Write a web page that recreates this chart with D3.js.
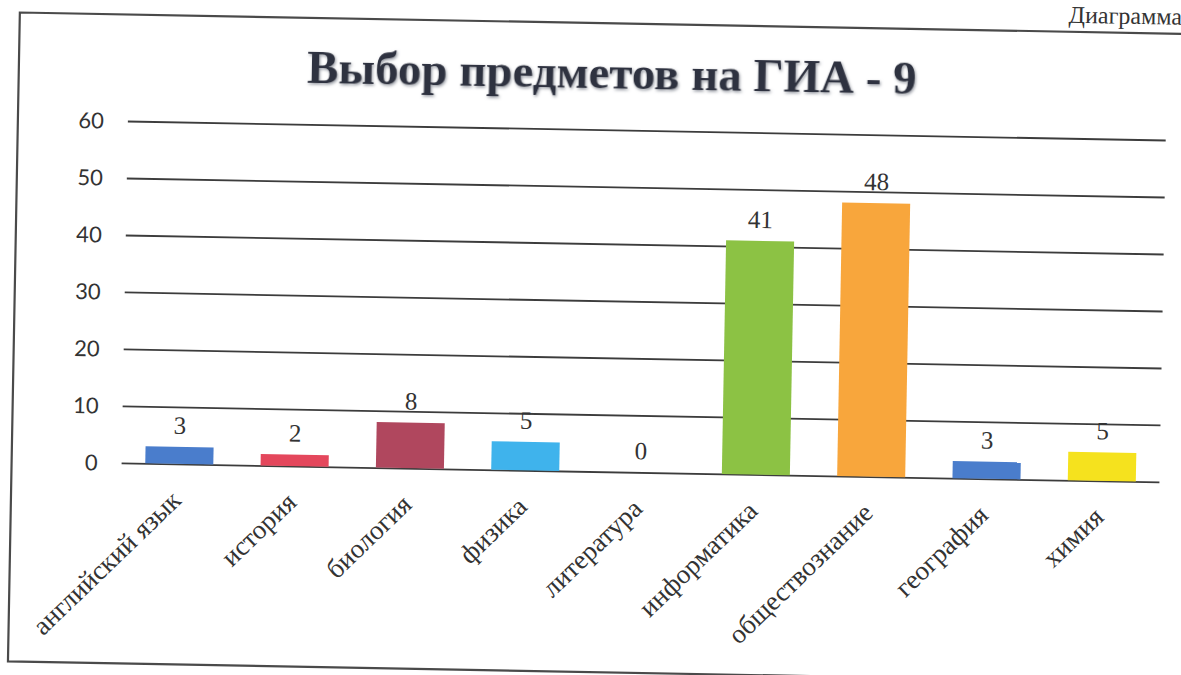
<!DOCTYPE html>
<html>
<head>
  <meta charset="utf-8">
  <script src="https://d3js.org/d3.v7.min.js"></script>
  <style>
    body { margin: 0; background: #fff; }
    svg { display: block; }
    .grid line { stroke: #3c3c3c; stroke-width: 1.8; }
    .grid path { display: none; }
    .ytick text { font-family: Lato, "Open Sans", sans-serif; font-size: 22px; fill: #333; }
    .cat { font-family: "Liberation Serif", "DejaVu Serif", serif; font-size: 27px; fill: #333; }
    .val { font-family: "Liberation Serif", "DejaVu Serif", serif; font-size: 25px; fill: #333; }
  </style>
</head>
<body>
  <svg width="1181" height="675"></svg>
  <script>
    // chart data
    var subjects = ["английский язык", "история", "биология", "физика", "литература",
                    "информатика", "обществознание", "география", "химия"];
    var counts = [3, 2, 8, 5, 0, 41, 48, 3, 5];
    var barColors = ["#4a7dcc", "#e4475c", "#b0475e", "#3fb3ec", "#9a9a9a",
                     "#8cc244", "#f8a63c", "#4a7dcc", "#f5e21e"];
    var yTicks = [0, 10, 20, 30, 40, 50, 60];
    var title = "Выбор предметов на ГИА - 9";

    var svg = d3.select("svg");
    var margin = {top: 129.5, right: 19, bottom: 203.5, left: 124},
      width = +svg.attr("width") - margin.left - margin.right,
      height = +svg.attr("height") - margin.top - margin.bottom;

    var defs = svg.append("defs");
    var f = defs.append("filter").attr("id", "glow")
      .attr("x", "-5%").attr("y", "-20%").attr("width", "110%").attr("height", "140%");
    f.append("feDropShadow").attr("dx", 1).attr("dy", 1.5)
      .attr("stdDeviation", 1.6).attr("flood-color", "#8a8f99").attr("flood-opacity", 0.9);

    // the scan is slightly tilted
    var page = svg.append("g").attr("transform", "rotate(1.05,590,337)");

    // caption above the frame (runs off the page in the scan)
    page.append("text")
      .attr("x", 1176).attr("y", 14)
      .attr("text-anchor", "end")
      .style("font-family", "Liberation Serif, serif")
      .style("font-size", "24px").style("fill", "#333")
      .text("Диаграмма");

    // outer frame
    page.append("path")
      .attr("d", "M1210,23 H14 V672 H1210")
      .attr("fill", "none").attr("stroke", "#4a4a4a").attr("stroke-width", 2.2);

    page.append("text")
      .attr("x", 607).attr("y", 88)
      .attr("text-anchor", "middle")
      .attr("filter", "url(#glow)")
      .style("font-family", "Liberation Serif, serif")
      .style("font-weight", "bold")
      .style("font-size", "47px")
      .style("fill", "#2e3240")
      .text(title);

    var x = d3.scaleBand().domain(subjects).range([0, width])
      .paddingInner(0.41).paddingOuter(0.205);
    var y = d3.scaleLinear().domain([0, 60]).range([height, 0]);

    var g = page.append("g")
      .attr("transform", "translate(" + margin.left + "," + margin.top + ")");

    var grid = g.append("g").attr("class", "grid")
      .call(d3.axisLeft(y).tickValues(yTicks).tickSize(-width).tickFormat(""));
    grid.selectAll(".tick line").attr("x1", 0);

    g.append("g").attr("class", "ytick")
      .selectAll("text").data(yTicks).enter().append("text")
      .attr("x", -24)
      .attr("y", function(d) { return y(d); })
      .attr("dy", "0.36em")
      .attr("text-anchor", "end")
      .text(function(d) { return d; });

    g.selectAll(".bar")
      .data(counts)
      .enter().append("rect")
      .attr("class", "bar")
      .attr("x", function(d, i) { return x(subjects[i]); })
      .attr("y", function(d) { return y(d); })
      .attr("width", x.bandwidth())
      .attr("height", function(d) { return height - y(d); })
      .attr("fill", function(d, i) { return barColors[i]; });

    g.selectAll(".val")
      .data(counts)
      .enter().append("text")
      .attr("class", "val")
      .attr("x", function(d, i) { return x(subjects[i]) + x.bandwidth() / 2; })
      .attr("y", function(d) { return y(d) - 13; })
      .attr("text-anchor", "middle")
      .text(function(d) { return d; });

    g.selectAll(".cat")
      .data(subjects)
      .enter().append("text")
      .attr("class", "cat")
      .attr("text-anchor", "end")
      .attr("transform", function(d) {
        return "translate(" + (x(d) + x.bandwidth() / 2 + 4) + "," + (height + 38) + ") rotate(-45)";
      })
      .text(function(d) { return d; });
  </script>
</body>
</html>
